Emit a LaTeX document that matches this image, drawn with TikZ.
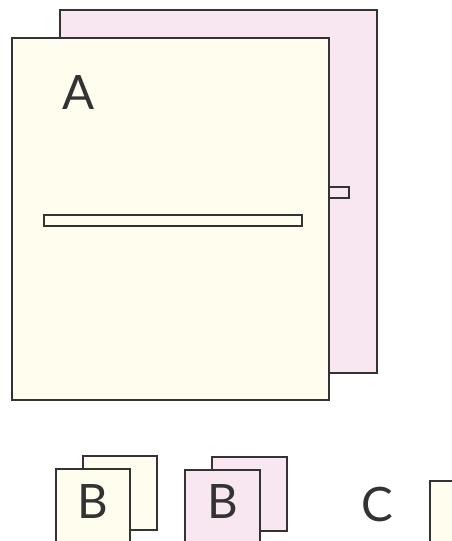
\documentclass[tikz,border=0pt]{standalone}
\usepackage{fontspec}
\setmainfont{Lato}
\usepackage{xcolor}
\usetikzlibrary{positioning}
\definecolor{pagecream}{RGB}{255,253,238}
\definecolor{pagepink}{RGB}{248,230,241}
\definecolor{edgegray}{RGB}{51,51,51}

\begin{document}
\begin{tikzpicture}[x=0.02cm,y=-0.02cm,
 cream/.style={draw=edgegray,line width=0.8pt,fill=pagecream},
 pink/.style={draw=edgegray,line width=0.8pt,fill=pagepink},
 letter/.style={text=edgegray,font=\fontsize{27}{27}\selectfont,inner sep=0pt}
]
\useasboundingbox (0,0) rectangle (452,541);
\begin{scope}
\clip (0,0) rectangle (452,541);
% big pair
\draw[pink] (60,10) rectangle (377,373);
\draw[pink] (329,187) rectangle (349,198);
\draw[cream] (12,38) rectangle (329,400);
\draw[cream] (44,215) rectangle (302,226);
\node[letter] (A) at (79,93) {A};
% small pairs
\draw[cream] (83,456) rectangle (157,530);
\draw[cream] (56,469) rectangle (130,560);
\node[letter] (B1) at (93,502) {B};
\draw[pink] (212,457) rectangle (287,531);
\draw[pink] (185,470) rectangle (260,560);
\node[letter] (B2) at (223,502) {B};
\node[letter] (C) at (377,505) {C};
\draw[cream] (430,481) rectangle (470,560);
\end{scope}
\end{tikzpicture}
\end{document}
